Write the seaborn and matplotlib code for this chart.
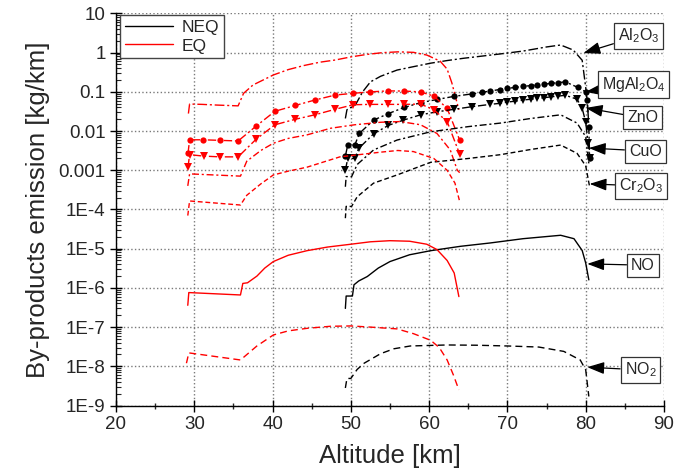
import numpy as np
import pandas as pd
import matplotlib
matplotlib.use("Agg")
import matplotlib.pyplot as plt
import matplotlib.ticker as mticker
from matplotlib.lines import Line2D
import seaborn as sns

# ---------------- data ----------------
# Al2O3
al2o3_eq_x = [29.25, 29.4, 31.0, 33.0, 35.6, 36.3, 37.5, 40.1, 42.0, 44.0, 46.0, 48.0, 50.0, 52.0, 54.0, 56.0, 58.0, 59.7, 61.4, 62.3, 62.9, 63.4, 63.8]
al2o3_eq_y = [0.028, 0.049, 0.048, 0.046, 0.044, 0.092, 0.15, 0.27, 0.37, 0.47, 0.57, 0.65, 0.78, 0.9, 1.0, 1.05, 1.02, 0.87, 0.61, 0.38, 0.17, 0.07, 0.035]
al2o3_neq_x = [49.3, 49.5, 50.6, 51.5, 52.5, 53.8, 55.9, 58.0, 60.2, 62.3, 64.4, 66.8, 69.1, 72.0, 75.0, 76.8, 78.4, 79.55, 80.0, 80.3]
al2o3_neq_y = [0.021, 0.035, 0.047, 0.1, 0.18, 0.25, 0.36, 0.44, 0.54, 0.63, 0.72, 0.82, 0.93, 1.1, 1.4, 1.57, 1.17, 0.64, 0.13, 0.03]

# MgAl2O4
mgal_eq_x = [29.2, 29.4, 31.1, 33.3, 35.6, 37.9, 40.3, 42.9, 45.4, 48.0, 50.3, 52.5, 54.7, 56.8, 58.9, 60.6, 62.3, 63.9]
mgal_eq_y = [0.0027, 0.006, 0.006, 0.0058, 0.0056, 0.0134, 0.032, 0.045, 0.062, 0.083, 0.092, 0.10, 0.106, 0.105, 0.10, 0.078, 0.038, 0.0059]
mgal_neq_x = [49.3, 49.6, 50.5, 51.1, 52.9, 54.8, 56.8, 58.9, 61.0, 63.2, 65.5, 66.7, 67.8, 69.0, 70.0, 71.0, 72.0, 73.0, 73.8, 74.7, 75.6, 76.5, 77.4, 79.0, 80.0, 80.2, 80.4, 80.5]
mgal_neq_y = [0.0023, 0.0044, 0.0044, 0.0088, 0.019, 0.028, 0.04, 0.053, 0.064, 0.077, 0.089, 0.097, 0.105, 0.115, 0.123, 0.13, 0.138, 0.145, 0.15, 0.157, 0.165, 0.172, 0.18, 0.13, 0.1, 0.063, 0.013, 0.002]

# ZnO
zno_eq_x = [29.2, 29.4, 31.2, 33.3, 35.6, 37.9, 40.3, 42.9, 45.4, 48.0, 50.3, 52.5, 54.8, 56.8, 58.9, 60.6, 62.3, 63.9]
zno_eq_y = [0.0012, 0.0025, 0.0023, 0.0022, 0.0022, 0.0062, 0.0145, 0.02, 0.026, 0.036, 0.047, 0.048, 0.048, 0.048, 0.049, 0.035, 0.0175, 0.0026]
zno_neq_x = [49.3, 49.6, 50.5, 51.0, 52.9, 54.8, 56.7, 58.9, 61.0, 63.2, 65.5, 67.8, 69.0, 70.0, 71.0, 72.0, 73.0, 73.8, 74.7, 75.6, 76.5, 77.4, 78.9, 79.55, 80.0, 80.3, 80.5]
zno_neq_y = [0.001, 0.002, 0.002, 0.0036, 0.0085, 0.014, 0.019, 0.026, 0.031, 0.036, 0.042, 0.048, 0.051, 0.055, 0.058, 0.062, 0.065, 0.068, 0.071, 0.075, 0.078, 0.082, 0.065, 0.038, 0.017, 0.005, 0.002]

# CuO
cuo_eq_x = [29.17, 29.4, 35.9, 36.7, 38.5, 40.1, 42.0, 44.4, 47.4, 50.5, 53.8, 56.3, 58.9, 61.0, 62.7, 63.6, 63.9]
cuo_eq_y = [4e-4, 8.1e-4, 7.1e-4, 0.0017, 0.0032, 0.0049, 0.0065, 0.008, 0.0118, 0.0145, 0.0168, 0.0175, 0.0145, 0.0087, 0.0033, 0.001, 8.7e-4]
cuo_neq_x = [49.3, 49.4, 50.1, 50.8, 52.9, 55.9, 60.2, 65.0, 69.1, 73.0, 76.8, 78.9, 80.0, 80.4]
cuo_neq_y = [3.8e-4, 6.9e-4, 6.9e-4, 0.0014, 0.0033, 0.0059, 0.0096, 0.013, 0.016, 0.021, 0.026, 0.016, 0.0072, 0.0015]

# Cr2O3
cr_eq_x = [29.17, 29.4, 35.9, 36.7, 38.5, 40.1, 42.0, 44.4, 48.6, 53.8, 56.0, 58.0, 60.6, 62.3, 63.3, 63.9]
cr_eq_y = [7e-5, 1.65e-4, 1.3e-4, 2.3e-4, 4.5e-4, 7.6e-4, 9.5e-4, 0.0012, 0.0022, 0.0029, 0.0032, 0.003, 0.002, 0.001, 4.7e-4, 1.6e-4]
cr_neq_x = [49.3, 49.4, 50.1, 50.8, 52.9, 55.9, 60.2, 65.0, 69.1, 73.0, 76.8, 78.9, 80.0, 80.5]
cr_neq_y = [6e-5, 1.2e-4, 1.2e-4, 2.1e-4, 4.7e-4, 7.6e-4, 0.0016, 0.002, 0.0025, 0.0034, 0.0044, 0.0027, 0.0013, 3.8e-4]

# NO
no_eq_x = [29.17, 29.3, 35.9, 36.2, 36.8, 38.0, 39.0, 40.1, 42.0, 44.4, 47.0, 50.0, 52.5, 55.0, 57.5, 59.7, 61.0, 62.3, 63.2, 63.8]
no_eq_y = [3.6e-7, 7.6e-7, 6.6e-7, 1.3e-6, 1.35e-6, 2.0e-6, 3.2e-6, 4.7e-6, 6.8e-6, 8.9e-6, 1.1e-5, 1.3e-5, 1.5e-5, 1.6e-5, 1.55e-5, 1.3e-5, 9.5e-6, 5e-6, 2.4e-6, 6e-7]
no_neq_x = [49.3, 49.4, 50.2, 50.4, 51.0, 52.1, 53.5, 55.0, 57.5, 60.2, 64.0, 67.8, 72.0, 76.8, 78.5, 79.55, 80.0, 80.4]
no_neq_y = [3e-7, 6.2e-7, 6.2e-7, 1.2e-6, 1.5e-6, 1.95e-6, 3.2e-6, 4.7e-6, 7e-6, 8.9e-6, 1.15e-5, 1.4e-5, 1.8e-5, 2.2e-5, 1.8e-5, 9e-6, 4.3e-6, 1.6e-6]

# NO2
no2_eq_x = [29.0, 29.3, 35.9, 38.0, 40.1, 42.0, 44.4, 47.4, 50.0, 52.5, 55.9, 58.0, 60.2, 61.3, 62.3, 63.1, 63.8]
no2_eq_y = [1.2e-8, 2.2e-8, 1.45e-8, 3.3e-8, 6.3e-8, 8e-8, 9.3e-8, 1.05e-7, 1.07e-7, 1.0e-7, 9e-8, 6.8e-8, 4.6e-8, 3e-8, 1.45e-8, 6e-9, 2.5e-9]
no2_neq_x = [49.3, 49.5, 50.0, 50.8, 51.7, 53.8, 55.5, 57.6, 62.3, 66.0, 70.0, 74.0, 77.2, 79.3, 80.0, 80.4]
no2_neq_y = [2.8e-9, 4.9e-9, 4.9e-9, 8.3e-9, 1.2e-8, 2.1e-8, 2.8e-8, 3.3e-8, 3.5e-8, 3.45e-8, 3.3e-8, 3.1e-8, 2.4e-8, 1.45e-8, 8.1e-9, 1.7e-9]

species = ["Al2O3", "MgAl2O4", "ZnO", "CuO", "Cr2O3", "NO", "NO2"]
label_text = [r"Al$_2$O$_3$", r"MgAl$_2$O$_4$", "ZnO", "CuO", r"Cr$_2$O$_3$", "NO", r"NO$_2$"]
label_pos_x = [86.75, 86.1, 87.3, 87.6, 87.1, 87.3, 87.0]
label_pos_y = [2.67, 0.15, 0.0216, 0.0031, 4.0e-4, 3.8e-6, 8.1e-9]
arrow_x = [79.7, 80.0, 80.0, 80.4, 80.5, 80.2, 80.2]
arrow_y = [0.98, 0.1, 0.039, 0.0037, 4.5e-4, 4.1e-6, 9.5e-9]

y_ticks = [10, 1, 0.1, 0.01, 0.001, 1e-4, 1e-5, 1e-6, 1e-7, 1e-8, 1e-9]
y_tick_labels = ["10", "1", "0.1", "0.01", "0.001", "1E-4", "1E-5", "1E-6", "1E-7", "1E-8", "1E-9"]
x_ticks = [20, 30, 40, 50, 60, 70, 80, 90]

series = {
    ("Al2O3", "EQ"): (al2o3_eq_x, al2o3_eq_y), ("Al2O3", "NEQ"): (al2o3_neq_x, al2o3_neq_y),
    ("MgAl2O4", "EQ"): (mgal_eq_x, mgal_eq_y), ("MgAl2O4", "NEQ"): (mgal_neq_x, mgal_neq_y),
    ("ZnO", "EQ"): (zno_eq_x, zno_eq_y), ("ZnO", "NEQ"): (zno_neq_x, zno_neq_y),
    ("CuO", "EQ"): (cuo_eq_x, cuo_eq_y), ("CuO", "NEQ"): (cuo_neq_x, cuo_neq_y),
    ("Cr2O3", "EQ"): (cr_eq_x, cr_eq_y), ("Cr2O3", "NEQ"): (cr_neq_x, cr_neq_y),
    ("NO", "EQ"): (no_eq_x, no_eq_y), ("NO", "NEQ"): (no_neq_x, no_neq_y),
    ("NO2", "EQ"): (no2_eq_x, no2_eq_y), ("NO2", "NEQ"): (no2_neq_x, no2_neq_y),
}
rows = []
for (sp, case), (xs, ys) in series.items():
    for i, (xv, yv) in enumerate(zip(xs, ys)):
        rows.append({"species": sp, "case": case, "order": i, "alt": xv, "val": yv})
df = pd.DataFrame(rows)

# ---------------- styling ----------------
sns.set_style("ticks", {"axes.grid": True, "grid.color": "#7a7a7a", "grid.linestyle": ":"})
plt.rcParams["font.family"] = ["Liberation Sans", "DejaVu Sans"]
plt.rcParams["mathtext.default"] = "regular"
plt.rcParams["grid.linewidth"] = 1.0

styles = {
    "Al2O3": dict(ls=(0, (7, 2, 1.5, 2)), marker=None),
    "MgAl2O4": dict(ls=(0, (6, 2, 1.5, 2)), marker="o"),
    "ZnO": dict(ls=(0, (6, 2, 1.5, 2)), marker="v"),
    "CuO": dict(ls=(0, (5, 2, 1.5, 2)), marker=None),
    "Cr2O3": dict(ls=(0, (3.5, 2)), marker=None),
    "NO": dict(ls="-", marker=None),
    "NO2": dict(ls=(0, (5, 3)), marker=None),
}
colors = {"NEQ": "black", "EQ": "#ff0000"}

fig = plt.figure(figsize=(6.88, 4.73), dpi=100)
ax = fig.add_axes([0.1686, 0.1427, 0.9651 - 0.1686, 0.9715 - 0.1427])

for sp in species:
    for case in ["NEQ", "EQ"]:
        sub = df[(df.species == sp) & (df.case == case)].sort_values("order")
        st = styles[sp]
        sns.lineplot(data=sub, x="alt", y="val", ax=ax, sort=False, estimator=None,
                     color=colors[case], linewidth=1.0, linestyle=st["ls"],
                     marker=st["marker"] if st["marker"] else None,
                     markersize=4.5 if st["marker"] == "o" else 5.5,
                     markeredgewidth=0, legend=False)

ax.set_yscale("log")
ax.set_xlim(20, 90)
ax.set_ylim(1e-9, 10)
ax.set_xticks(x_ticks)
ax.xaxis.set_minor_locator(mticker.MultipleLocator(5))
ax.yaxis.set_major_locator(mticker.FixedLocator(y_ticks))
ax.yaxis.set_major_formatter(mticker.FixedFormatter(y_tick_labels))
ax.yaxis.set_minor_locator(mticker.LogLocator(base=10, subs=np.arange(2, 10), numticks=20))
ax.yaxis.set_minor_formatter(mticker.NullFormatter())

ax.tick_params(axis="both", which="major", labelsize=13.5, direction="inout", length=8, width=1, color="black")
ax.tick_params(axis="x", which="minor", direction="inout", length=5, width=1)
ax.tick_params(axis="y", which="minor", direction="in", length=3.5, width=0.8)

for s in ["top", "right"]:
    ax.spines[s].set_visible(False)
for s in ["left", "bottom"]:
    ax.spines[s].set_color("black")
    ax.spines[s].set_linewidth(1.0)

ax.grid(visible=True, which="major", axis="both", linestyle=":", color="#7a7a7a", linewidth=1.0)
ax.grid(visible=False, which="minor")
ax.set_axisbelow(True)

ax.set_xlabel("Altitude [km]", fontsize=18.5, labelpad=8)
ax.set_ylabel("By-products emission [kg/km]", fontsize=18.5, labelpad=6)

# legend
handles = [Line2D([0], [0], color=colors["NEQ"], lw=1.0),
           Line2D([0], [0], color=colors["EQ"], lw=1.0)]
leg = ax.legend(handles, ["NEQ", "EQ"], loc="upper left", bbox_to_anchor=(0.008, 0.995),
                fontsize=12.5, frameon=True, fancybox=False, handlelength=2.8,
                borderpad=0.25, labelspacing=0.2, handletextpad=0.5, borderaxespad=0)
leg.get_frame().set_edgecolor("#444444")
leg.get_frame().set_linewidth(1.0)
leg.get_frame().set_alpha(1.0)

# annotations
for txt, lx, ly, axx, axy in zip(label_text, label_pos_x, label_pos_y, arrow_x, arrow_y):
    ax.annotate(txt, xy=(axx, axy), xytext=(lx, ly), fontsize=11.5, ha="center", va="center",
                annotation_clip=False,
                bbox=dict(boxstyle="square,pad=0.25", fc="white", ec="#333333", lw=0.9),
                arrowprops=dict(arrowstyle="-|>,head_length=0.9,head_width=0.32", color="black",
                                lw=0.9, shrinkA=0, shrinkB=0))

fig.savefig("out.png", dpi=100)
